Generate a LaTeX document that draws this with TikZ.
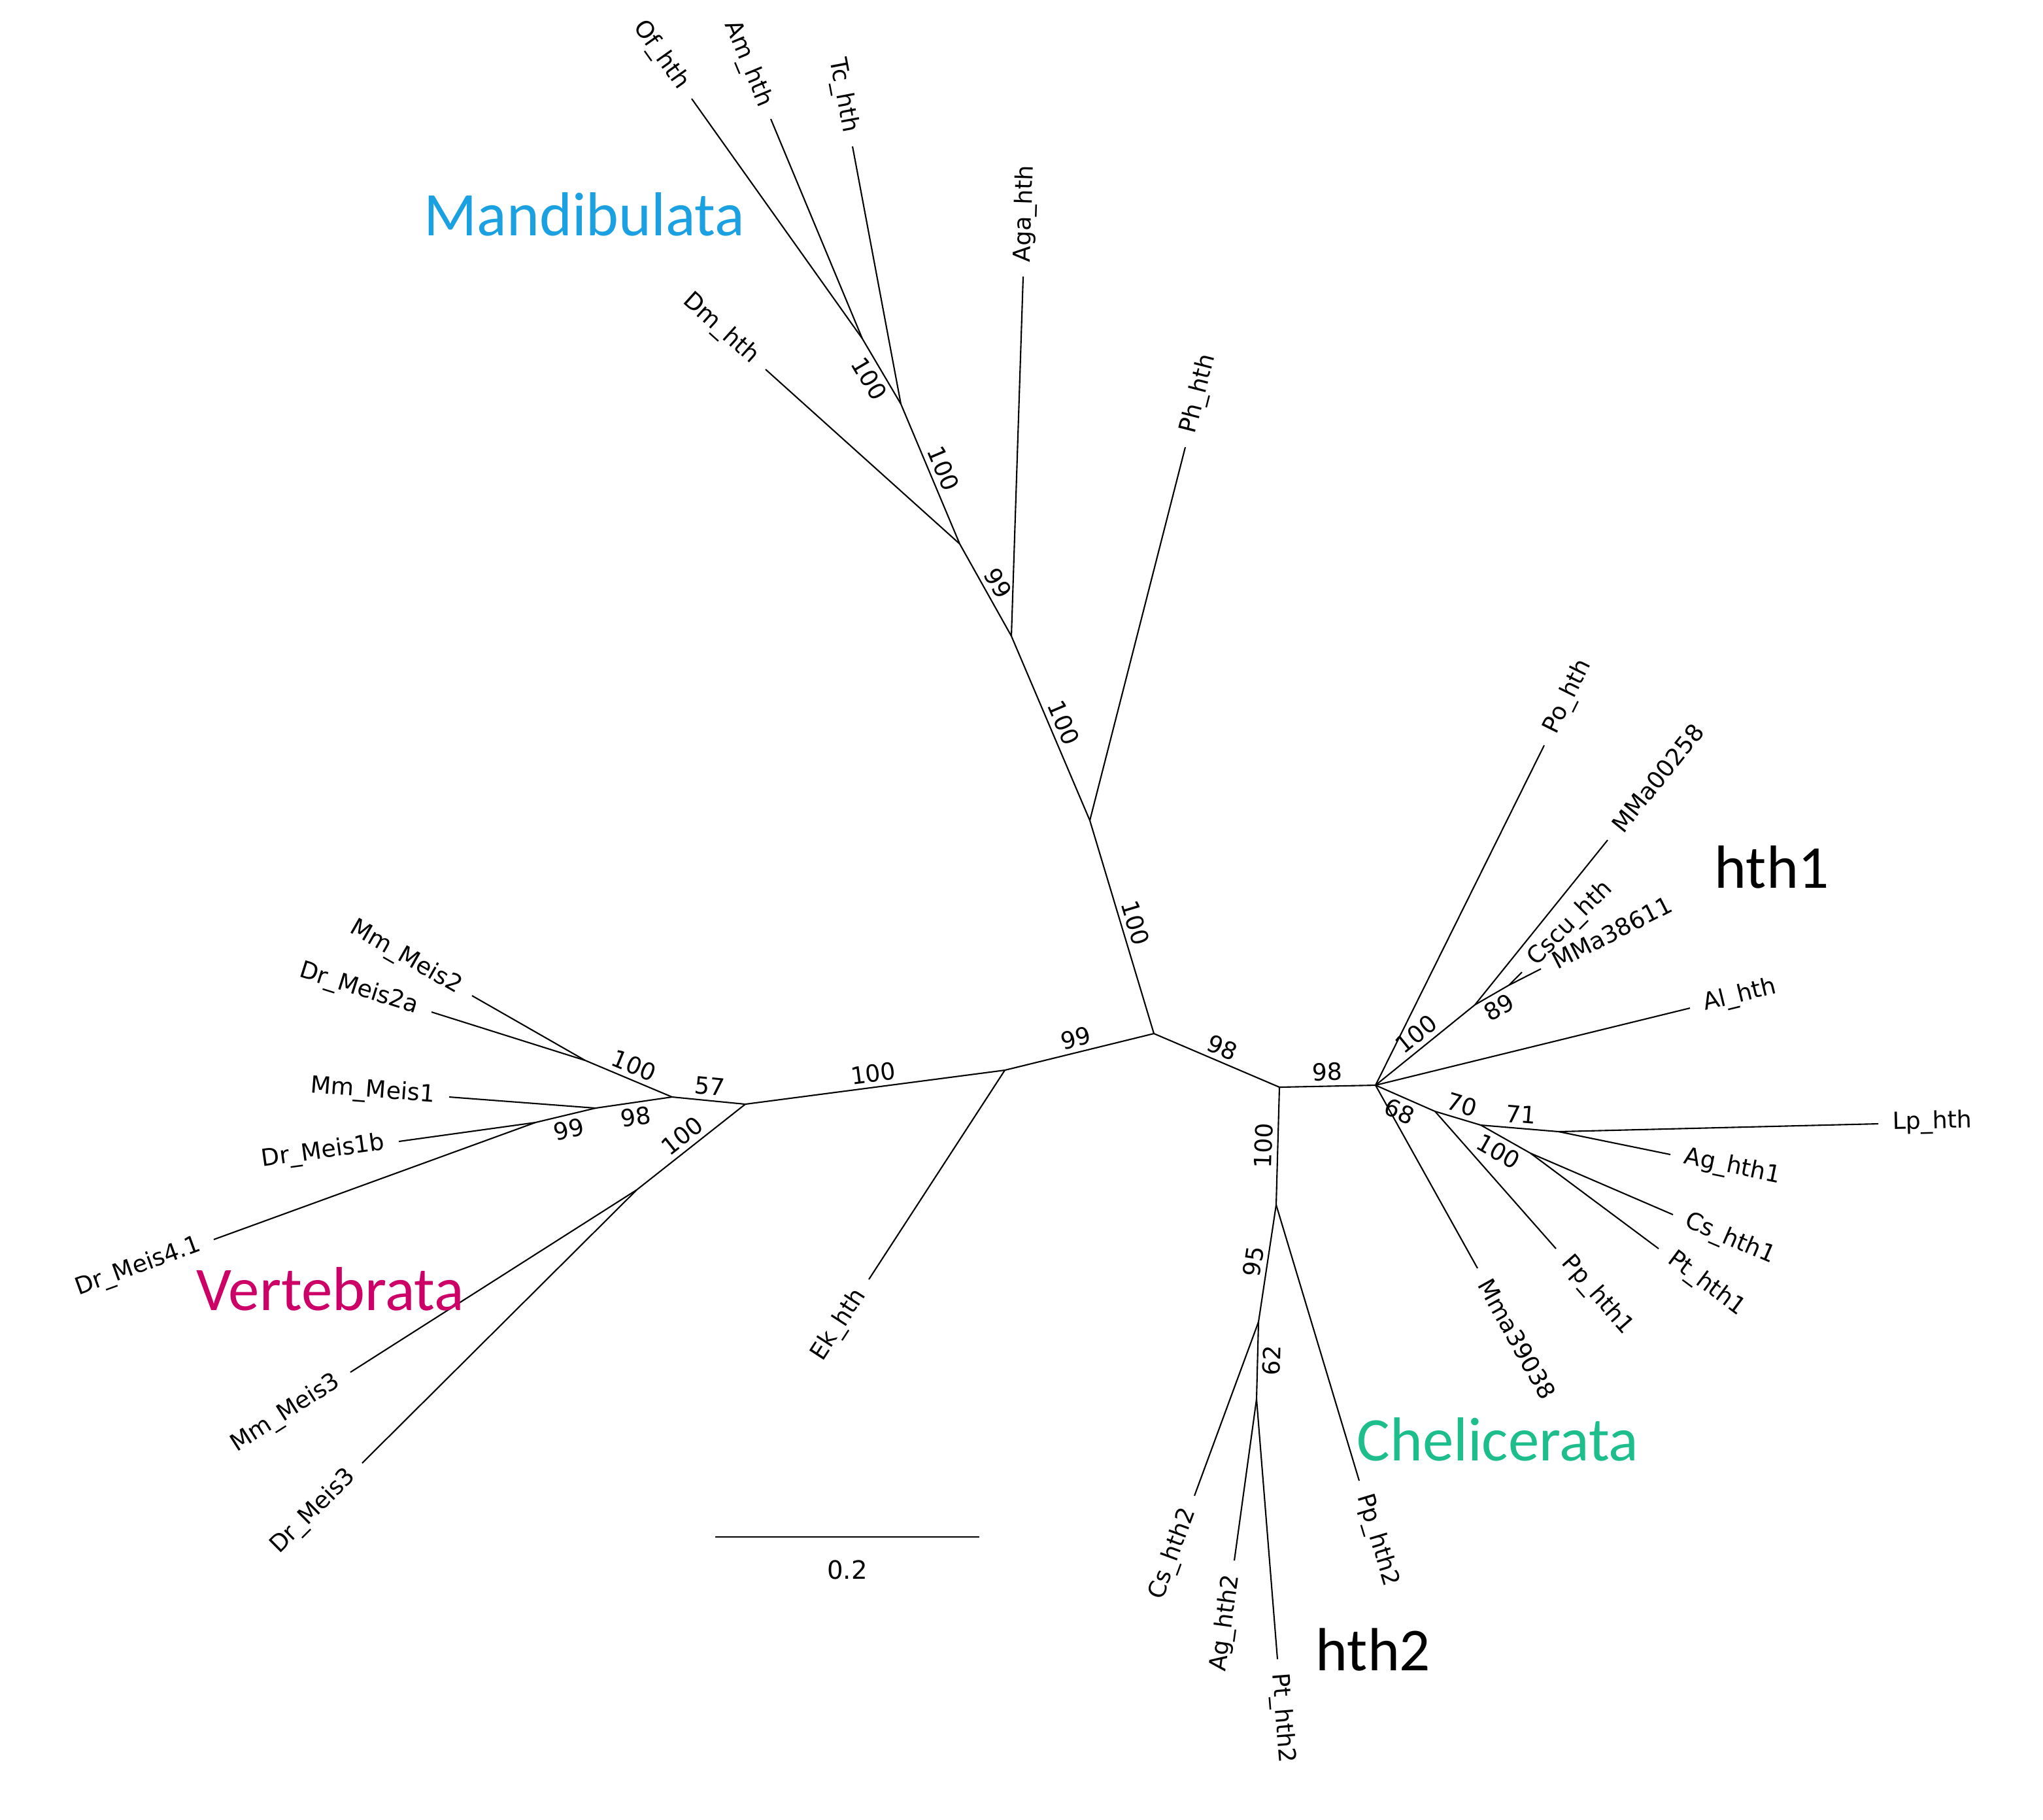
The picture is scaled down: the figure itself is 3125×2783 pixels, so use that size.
\documentclass[tikz,border=0pt]{standalone}
\usepackage{fontspec}
\setmainfont{DejaVu Sans}
\newfontfamily\cladefont{Carlito}
\definecolor{mandib}{RGB}{27,161,226}
\definecolor{vertcol}{RGB}{204,0,102}
\definecolor{chelcol}{RGB}{29,190,140}
\begin{document}
\begin{tikzpicture}[x=0.01cm,y=-0.01cm,
 br/.style={line width=0.6pt},
 lab/.style={font=\fontsize{10.3}{12}\selectfont, sloped, inner xsep=6pt, inner ysep=1pt, pos=1},
 lr/.style={lab, anchor=west},
 ll/.style={lab, anchor=east},
 bs/.style={font=\fontsize{10.3}{12}\selectfont, sloped, inner sep=2pt, pos=0.5},
 clade/.style={font=\cladefont\fontsize{27}{30}\selectfont, anchor=base west, inner sep=0pt},
 gene/.style={font=\cladefont\fontsize{26.5}{30}\selectfont, anchor=base west, inner sep=0pt}]
\useasboundingbox (0,0) rectangle (3125,2783);
% internal nodes
\coordinate (C0) at (1765,1581);
\coordinate (M1) at (1667,1255);
\coordinate (M2) at (1547,973);
\coordinate (M3) at (1468,832);
\coordinate (M4) at (1378,618);
\coordinate (M5) at (1319,518);
\coordinate (V1) at (1537,1637);
\coordinate (V2) at (1140,1689);
\coordinate (V3) at (1028,1678);
\coordinate (V4) at (895,1622);
\coordinate (V5) at (911,1695);
\coordinate (V7) at (819,1717);
\coordinate (V6) at (974,1820);
\coordinate (C1) at (1957,1663);
\coordinate (H1) at (2104,1660);
\coordinate (H2) at (1952,1843);
\coordinate (H3) at (1925,2022);
\coordinate (H4) at (1922,2140);
\coordinate (H5) at (2256,1537);
\coordinate (H6) at (2308,1507);
\coordinate (H7) at (2195,1700);
\coordinate (H8) at (2265,1721);
\coordinate (H9) at (2384,1731);
\coordinate (H10) at (2341,1764);
% leaf tips
\coordinate (Ph) at (1813,684);
\coordinate (Aga) at (1565,423);
\coordinate (Dm) at (1171,565);
\coordinate (Tc) at (1304,224);
\coordinate (Of) at (1058,151);
\coordinate (Am) at (1179,182);
\coordinate (Ek) at (1329,1957);
\coordinate (MmMeisB) at (722,1523);
\coordinate (DrMeisBa) at (660,1548);
\coordinate (MmMeisA) at (687,1678);
\coordinate (DrMeisAb) at (610,1746);
\coordinate (DrMeisD) at (327,1896);
\coordinate (MmMeisC) at (536,2099);
\coordinate (DrMeisC) at (554,2238);
\coordinate (PpB) at (2079,2265);
\coordinate (CsB) at (1827,2288);
\coordinate (AgB) at (1888,2387);
\coordinate (PtB) at (1954,2538);
\coordinate (Po) at (2362,1140);
\coordinate (MMaA) at (2459,1285);
\coordinate (Cscu) at (2328,1487);
\coordinate (MMaB) at (2357,1482);
\coordinate (Al) at (2585,1542);
\coordinate (MmaC) at (2260,1940);
\coordinate (PpA) at (2380,1910);
\coordinate (Lp) at (2873,1719);
\coordinate (AgA) at (2555,1766);
\coordinate (CsA) at (2559,1858);
\coordinate (PtA) at (2537,1910);
\coordinate (SB1) at (1094,2351);
\coordinate (SB2) at (1498,2351);

% internal branches with support values
\draw[br] (C0) -- node[bs,above] (b1) {100} (M1);
\draw[br] (M1) -- node[bs,above] (b2) {100} (M2);
\draw[br] (M2) -- node[bs,above] (b3) {99} (M3);
\draw[br] (M3) -- node[bs,above] (b4) {100} (M4);
\draw[br] (M4) -- node[bs,below] (b5) {100} (M5);
\draw[br] (C0) -- node[bs,above] (b6) {99} (V1);
\draw[br] (V1) -- node[bs,above] (b7) {100} (V2);
\draw[br] (V2) -- node[bs,above] (b8) {57} (V3);
\draw[br] (V2) -- node[bs,above] (b9) {100} (V6);
\draw[br] (V3) -- node[bs,above] (b10) {100} (V4);
\draw[br] (V3) -- node[bs,below] (b11) {98} (V5);
\draw[br] (V5) -- node[bs,below] (b12) {99} (V7);
\draw[br] (C0) -- node[bs,above] (b13) {98} (C1);
\draw[br] (C1) -- node[bs,above] (b14) {98} (H1);
\draw[br] (C1) -- node[bs,above] (b15) {100} (H2);
\draw[br] (H2) -- node[bs,above] (b16) {95} (H3);
\draw[br] (H3) -- node[bs,below] (b17) {62} (H4);
\draw[br] (H1) -- node[bs,above] (b18) {100} (H5);
\draw[br] (H5) -- node[bs,below] (b19) {89} (H6);
\draw[br] (H1) -- node[bs,below] (b20) {68} (H7);
\draw[br] (H7) -- node[bs,above] (b21) {70} (H8);
\draw[br] (H8) -- node[bs,above] (b22) {71} (H9);
\draw[br] (H8) -- node[bs,below] (b23) {100} (H10);

% leaf branches
\draw[br] (M1) -- node[lr] (lPh) {Ph\_hth} (Ph);
\draw[br] (M2) -- node[lr] (lAga) {Aga\_hth} (Aga);
\draw[br] (M3) -- node[ll] (lDm) {Dm\_hth} (Dm);
\draw[br] (M4) -- node[ll] (lTc) {Tc\_hth} (Tc);
\draw[br] (M5) -- node[ll] (lOf) {Of\_hth} (Of);
\draw[br] (M5) -- node[ll] (lAm) {Am\_hth} (Am);
\draw[br] (V1) -- node[ll] (lEk) {Ek\_hth} (Ek);
\draw[br] (V4) -- node[ll] (lMmB) {Mm\_Meis2} (MmMeisB);
\draw[br] (V4) -- node[ll] (lDrBa) {Dr\_Meis2a} (DrMeisBa);
\draw[br] (V5) -- node[ll] (lMmA) {Mm\_Meis1} (MmMeisA);
\draw[br] (V7) -- node[ll] (lDrAb) {Dr\_Meis1b} (DrMeisAb);
\draw[br] (V7) -- node[ll] (lDrD) {Dr\_Meis4.1} (DrMeisD);
\draw[br] (V6) -- node[ll] (lMmC) {Mm\_Meis3} (MmMeisC);
\draw[br] (V6) -- node[ll] (lDrC) {Dr\_Meis3} (DrMeisC);
\draw[br] (H2) -- node[lr] (lPpB) {Pp\_hth2} (PpB);
\draw[br] (H3) -- node[ll] (lCsB) {Cs\_hth2} (CsB);
\draw[br] (H4) -- node[ll] (lAgB) {Ag\_hth2} (AgB);
\draw[br] (H4) -- node[lr] (lPtB) {Pt\_hth2} (PtB);
\draw[br] (H1) -- node[lr] (lPo) {Po\_hth} (Po);
\draw[br] (H5) -- node[lr] (lMMaA) {MMa00258} (MMaA);
\draw[br] (H6) -- node[lr] (lCscu) {Cscu\_hth} (Cscu);
\draw[br] (H6) -- node[lr] (lMMaB) {MMa38611} (MMaB);
\draw[br] (H1) -- node[lr] (lAl) {Al\_hth} (Al);
\draw[br] (H1) -- node[lr] (lMmaC) {Mma39038} (MmaC);
\draw[br] (H7) -- node[lr] (lPpA) {Pp\_hth1} (PpA);
\draw[br] (H9) -- node[lr] (lLp) {Lp\_hth} (Lp);
\draw[br] (H9) -- node[lr] (lAgA) {Ag\_hth1} (AgA);
\draw[br] (H10) -- node[lr] (lCsA) {Cs\_hth1} (CsA);
\draw[br] (H10) -- node[lr] (lPtA) {Pt\_hth1} (PtA);

% scale bar
\draw[br] (SB1) -- node[below=10pt, font=\fontsize{11}{13}\selectfont, inner sep=0pt] (sbl) {0.2} (SB2);

% clade labels
\node[clade, text=mandib] (tMand) at (648,360) {Mandibulata};
\node[clade, text=vertcol] (tVert) at (300,2004) {Vertebrata};
\node[clade, text=chelcol] (tChel) at (2075,2234) {Chelicerata};
\node[gene] (tH1) at (2622,1358) {hth1};
\node[gene] (tH2) at (2012,2555) {hth2};
\end{tikzpicture}
\end{document}
